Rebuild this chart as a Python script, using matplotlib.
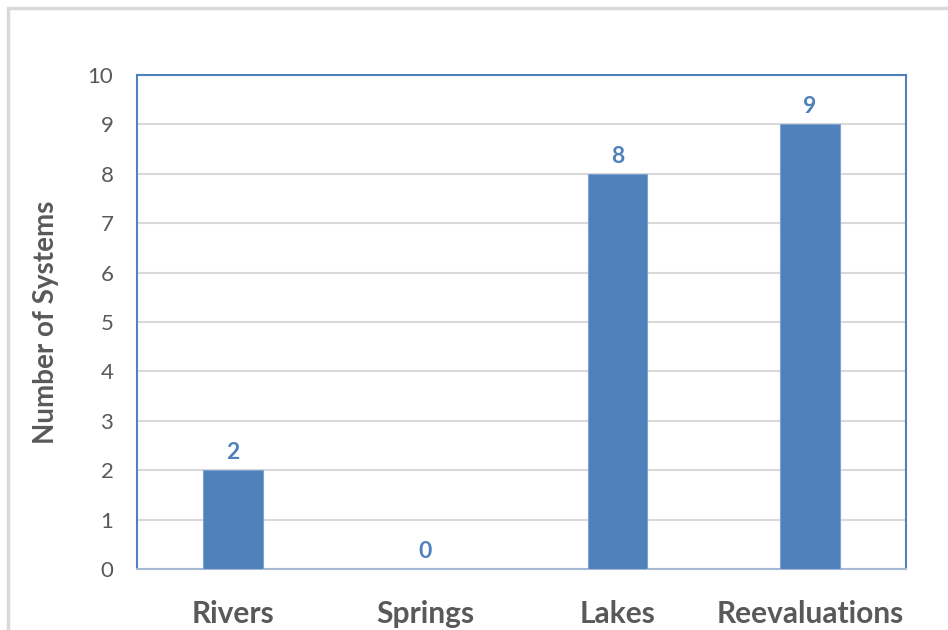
import matplotlib
matplotlib.use("Agg")
import matplotlib.pyplot as plt
from matplotlib.patches import Rectangle

categories = ["Rivers", "Springs", "Lakes", "Reevaluations"]
values = [2, 0, 8, 9]
yticks = [0, 1, 2, 3, 4, 5, 6, 7, 8, 9, 10]
ylabel = "Number of Systems"

BLUE = "#4F81BD"
GRAY = "#595959"
FONT = ["Lato", "DejaVu Sans"]

W, H = 948, 630
fig = plt.figure(figsize=(W / 100, H / 100), dpi=100)
fig.patch.set_facecolor("white")

# outer chart border (light gray), extends beyond right/bottom edges
fig.patches.append(Rectangle((7.5 / W, -0.05), 1.1, 1 - 7.5 / H + 0.05,
                             transform=fig.transFigure, fill=False,
                             edgecolor="#D9D9D9", linewidth=2.5))

ax = fig.add_axes([137 / W, 1 - 569 / H, (906 - 137) / W, (569 - 75) / H])
x = list(range(len(categories)))
ax.bar(x, values, width=0.31, color=BLUE, edgecolor="#7FA3D0", linewidth=0.8, zorder=3)

ax.set_xlim(-0.5, len(categories) - 0.5)
ax.set_ylim(0, 10)
ax.set_yticks(yticks)
ax.set_yticklabels([str(t) for t in yticks], fontsize=16, color=GRAY, family=FONT)
ax.set_xticks(x)
ax.set_xticklabels(categories, fontsize=21.5, color=GRAY, fontweight="bold", family=FONT)
ax.tick_params(axis="both", length=0)
ax.tick_params(axis="y", pad=17)
ax.tick_params(axis="x", pad=22)

ax.grid(axis="y", color="#D9D9D9", linewidth=1.5, zorder=0)
ax.set_axisbelow(True)

for side in ["left", "top", "right"]:
    ax.spines[side].set_color(BLUE)
    ax.spines[side].set_linewidth(1.5)
ax.spines["bottom"].set_color("#A6BAD6")
ax.spines["bottom"].set_linewidth(1.5)

for xi, v in zip(x, values):
    ax.annotate(str(v), (xi, v), xytext=(0, 5), textcoords="offset points",
                ha="center", va="bottom", fontsize=16.5, fontweight="bold",
                color=BLUE, family=FONT)

fig.text(46 / W, 1 - 322 / H, ylabel, rotation=90, ha="center", va="center",
         fontsize=20, fontweight="bold", color=GRAY, family=FONT)

fig.savefig("out.png", dpi=100, facecolor="white")
